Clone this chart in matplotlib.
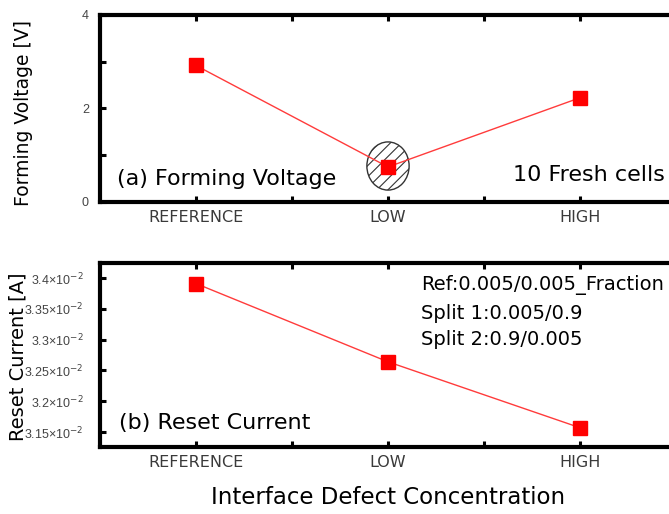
import numpy as np
import matplotlib.pyplot as plt
from matplotlib.patches import Ellipse
from matplotlib.ticker import FixedLocator, FuncFormatter

plt.rcParams['font.family'] = ['DejaVu Sans']
plt.rcParams['hatch.color'] = '#444444'
plt.rcParams['hatch.linewidth'] = 0.8

# data
categories = ['REFERENCE', 'LOW', 'HIGH']
forming_voltage = [2.92, 0.75, 2.23]
reset_current = [3.391e-2, 3.264e-2, 3.157e-2]
split_notes = ['Ref:0.005/0.005_Fraction', 'Split 1:0.005/0.9', 'Split 2:0.9/0.005']

W, H = 669, 514
fig = plt.figure(figsize=(W / 100, H / 100), dpi=100)
left, width = 100 / W, 576 / W
ax1 = fig.add_axes([left, 1 - 202 / H, width, 187 / H])
ax2 = fig.add_axes([left, 1 - 447 / H, width, 184 / H])

x = np.arange(len(categories))


def style(ax, ypad):
    for s in ax.spines.values():
        s.set_linewidth(3.0)
    ax.set_xlim(-0.5, 2.5)
    ax.set_xticks(x)
    ax.set_xticklabels(categories)
    ax.xaxis.set_minor_locator(FixedLocator([0.5, 1.5]))
    ax.tick_params(which='both', direction='in', top=True, right=True,
                   length=4.5, width=2.2, color='black')
    ax.tick_params(axis='x', which='major', labelsize=11.5, labelcolor='#3a3a3a', pad=6)
    ax.tick_params(axis='y', which='major', labelsize=9, labelcolor='#444444', pad=ypad)
    for lab in ax.get_yticklabels():
        lab.set_fontfamily('Liberation Sans')


# (a) forming voltage
ax1.set_ylim(0, 4)
ax1.set_yticks([0, 2, 4])
ax1.yaxis.set_minor_locator(FixedLocator([1, 3]))
style(ax1, 8)
ax1.plot(x, forming_voltage, color='#ff3b3b', lw=1, zorder=3)
ax1.plot(x, forming_voltage, 's', color='#ff0000', ms=9.5, zorder=4)
ax1.add_patch(Ellipse((1, 0.77), 0.22, 1.03, facecolor='none', edgecolor='#333333',
                      hatch='///', lw=1, zorder=2))
ax1.set_ylabel('Forming Voltage [V]', fontsize=13.5)
ax1.yaxis.set_label_coords(-0.116, 0.476)
ax1.text(-0.41, 0.5, '(a) Forming Voltage', fontsize=16, va='center', ha='left')
ax1.text(2.44, 0.58, '10 Fresh cells', fontsize=16, va='center', ha='right')

# (b) reset current
ax2.set_ylim(3.1257e-2, 3.4244e-2)
ax2.set_yticks([3.15e-2, 3.2e-2, 3.25e-2, 3.3e-2, 3.35e-2, 3.4e-2])
ax2.yaxis.set_major_formatter(FuncFormatter(lambda v, p: f'{v * 100:g}×10$^{{-2}}$'))
style(ax2, 12)
ax2.plot(x, reset_current, color='#ff3b3b', lw=1, zorder=3)
ax2.plot(x, reset_current, 's', color='#ff0000', ms=9.5, zorder=4)
ax2.set_ylabel('Reset Current [A]', fontsize=14)
ax2.yaxis.set_label_coords(-0.125, 0.49)
ax2.text(-0.40, 3.165e-2, '(b) Reset Current', fontsize=16, va='center', ha='left')
for note, yy in zip(split_notes, [3.389e-2, 3.342e-2, 3.300e-2]):
    ax2.text(1.17, yy, note, fontsize=14, va='center', ha='left')

fig.text(388 / W, 1 - 498 / H, 'Interface Defect Concentration', fontsize=16.5,
         ha='center', va='center')

fig.savefig('out.png', dpi=100)
